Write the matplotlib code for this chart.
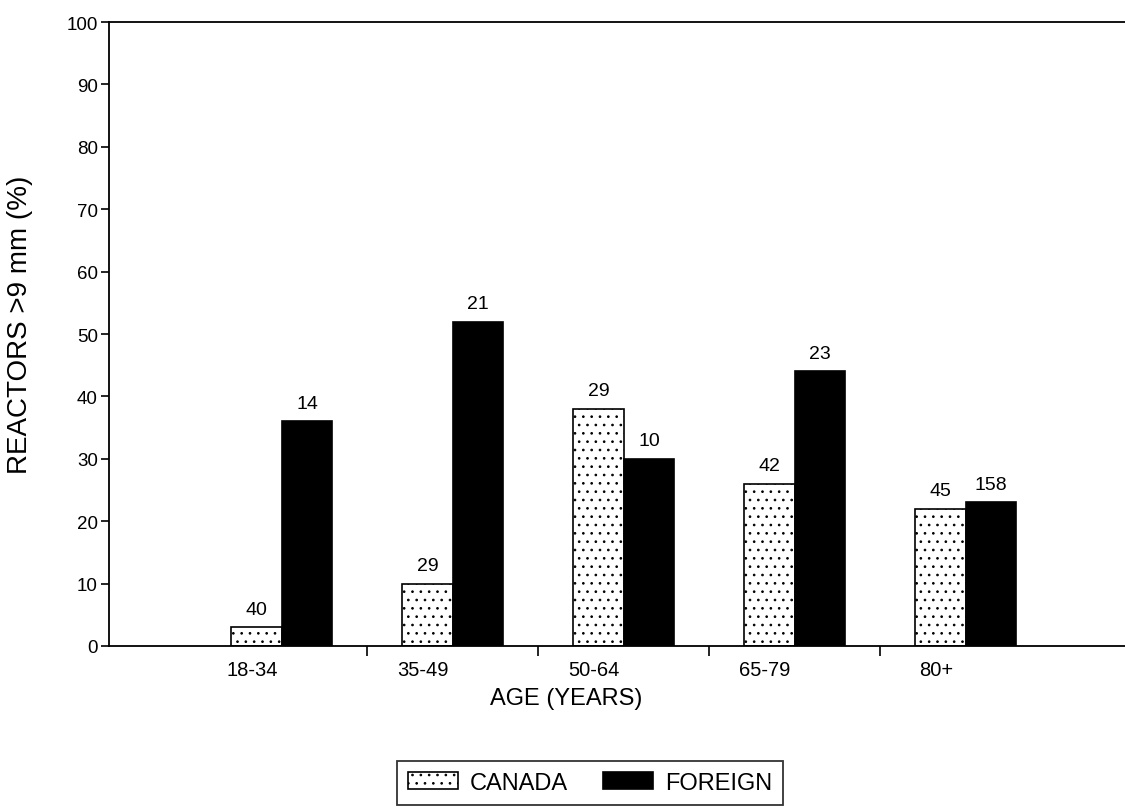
import matplotlib
matplotlib.use("Agg")
import matplotlib.pyplot as plt
import matplotlib.transforms as mtransforms
import numpy as np

plt.rcParams['font.family'] = ['Liberation Sans', 'DejaVu Sans']
plt.rcParams['hatch.linewidth'] = 0.7

categories = ["18-34", "35-49", "50-64", "65-79", "80+"]
canada_pct = [3, 10, 38, 26, 22]
foreign_pct = [36, 52, 30, 44, 23]
canada_n = ["40", "29", "29", "42", "45"]
foreign_n = ["14", "21", "10", "23", "158"]
series_names = ["CANADA", "FOREIGN"]
yticks = [0, 10, 20, 30, 40, 50, 60, 70, 80, 90, 100]

fig = plt.figure(figsize=(11.25, 8.12), dpi=100)
ax = fig.add_axes([109/1125, 1 - 647/812, 1 - 109/1125, (647 - 23)/812])

x = np.arange(len(categories))
w = 0.295
b1 = ax.bar(x - w/2, canada_pct, w, facecolor='white', edgecolor='black',
            hatch='..', linewidth=1.2, label=series_names[0])
b2 = ax.bar(x + w/2, foreign_pct, w, facecolor='black', edgecolor='black',
            linewidth=1.2, label=series_names[1])

for rect, txt in zip(b1, canada_n):
    ax.annotate(txt, (rect.get_x() + rect.get_width()/2, rect.get_height()),
                xytext=(0, 7), textcoords='offset points', ha='center', va='bottom',
                fontsize=14)
for rect, txt in zip(b2, foreign_n):
    ax.annotate(txt, (rect.get_x() + rect.get_width()/2, rect.get_height()),
                xytext=(0, 7), textcoords='offset points', ha='center', va='bottom',
                fontsize=14)

ax.set_xlim(-1.01, 4.93)
ax.set_ylim(0, 100)
ax.set_yticks(yticks)
ax.tick_params(axis='y', direction='out', length=6, width=1.2, labelsize=13.5, pad=2)

# boundary ticks between groups (unlabeled), group labels as minor ticks
ax.set_xticks(x[:-1] + 0.5)
ax.set_xticklabels([])
ax.tick_params(axis='x', which='major', direction='out', length=7, width=1.2)
ax.set_xticks(x, minor=True)
ax.set_xticklabels(categories, minor=True)
ax.tick_params(axis='x', which='minor', length=0, labelsize=14.5, pad=10)
offset = mtransforms.ScaledTranslation(-30/100, 0, fig.dpi_scale_trans)
for lab in ax.get_xticklabels(minor=True):
    lab.set_transform(lab.get_transform() + offset)

for s in ['left', 'bottom', 'top']:
    ax.spines[s].set_linewidth(1.3)
ax.spines['right'].set_visible(False)

ax.set_xlabel("AGE (YEARS)", fontsize=17)
ax.xaxis.set_label_coords((566 - 109) / 1016, -0.066)
ax.set_ylabel("REACTORS >9 mm (%)", fontsize=20)
ax.yaxis.set_label_coords((33 - 109) / 1016, (647 - 325) / 624)

leg = fig.legend(handles=[b1, b2], labels=series_names, loc='center',
                 bbox_to_anchor=(590/1125, 1 - 784/812), ncol=2, frameon=True,
                 fancybox=False, edgecolor='black', fontsize=17,
                 handlelength=2.12, handleheight=0.7, columnspacing=1.5,
                 handletextpad=0.5, borderpad=0.45)
leg.get_frame().set_linewidth(1.3)

fig.savefig("out.png", dpi=100)
